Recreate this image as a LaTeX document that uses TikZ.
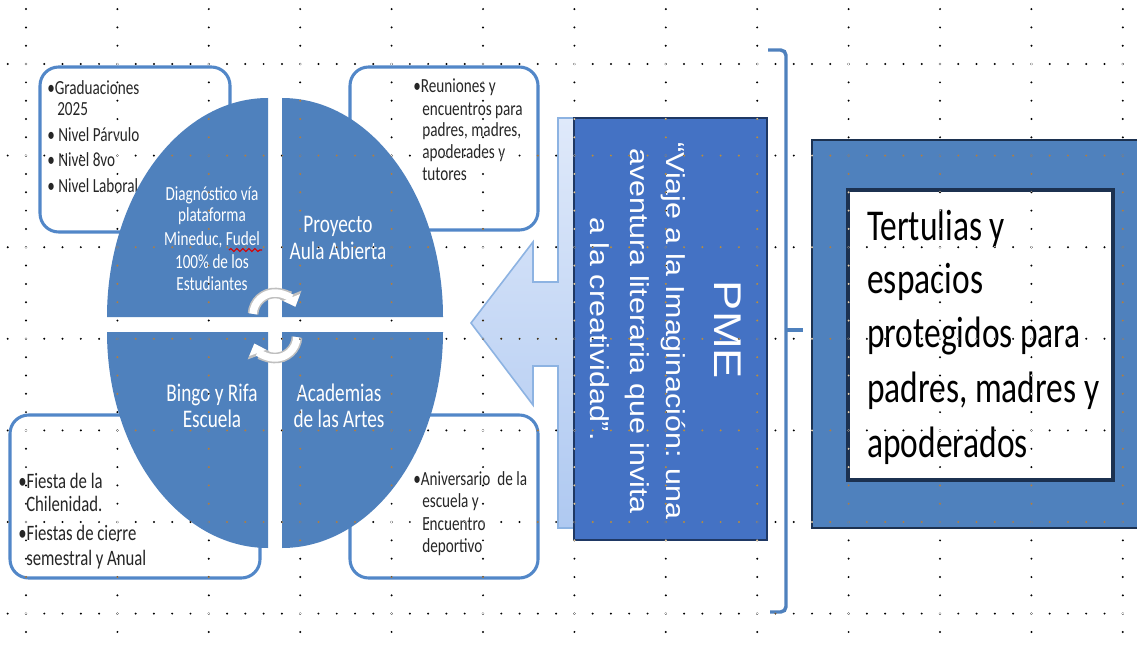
\documentclass[tikz,border=0pt]{standalone}
\usepackage{fontspec}
\setmainfont{Carlito}
\newfontfamily\narrowfont[FakeStretch=0.76]{Carlito}
\newfontfamily\pmefont[FakeStretch=1.17]{Liberation Sans}
\usetikzlibrary{arrows.meta,decorations.pathmorphing}
\definecolor{qblue}{HTML}{4F81BD}
\definecolor{pmeblue}{HTML}{4472C4}
\definecolor{navy}{HTML}{1F3864}
\definecolor{framenavy}{HTML}{1C3150}
\definecolor{boxline}{HTML}{5287C8}
\definecolor{arrowedge}{HTML}{8DB3E2}
\definecolor{arrowtop}{HTML}{DFE9FA}
\definecolor{arrowbot}{HTML}{AFC9F1}
\definecolor{txt}{HTML}{262626}
\tikzset{
  bulletbox/.style={draw=boxline, line width=2.3pt, fill=white, rounded corners=14pt},
  bullettext/.style={anchor=base west, inner sep=0pt, text=txt, font=\narrowfont\fontsize{15}{18}\selectfont},
  bullettextbig/.style={bullettext, font=\narrowfont\fontsize{16.5}{19}\selectfont},
  quad/.style={fill=qblue},
  quadtext/.style={anchor=base, inner sep=0pt, text=white, font=\narrowfont\fontsize{15}{18}\selectfont},
  quadbig/.style={anchor=base, inner sep=0pt, text=white, font=\narrowfont\fontsize{19}{22}\selectfont},
  pmeline/.style={rotate=-90, inner sep=0pt, text=white, font=\pmefont\fontsize{19.5}{23}\selectfont},
  pmetitle/.style={rotate=-90, inner sep=0pt, text=white, font=\pmefont\fontsize{29}{32}\selectfont},
  bigtext/.style={anchor=base west, inner sep=0pt, text=black, font=\narrowfont\fontsize{33}{40}\selectfont},
  cycout/.style={draw=black!25, line width=8pt, -{Triangle[width=17pt,length=9.5pt]}},
  cycin/.style={draw=white, line width=5.6pt, -{Triangle[width=13pt,length=7.5pt]}},
  bracketline/.style={draw=qblue, line width=2.6pt, rounded corners=4pt},
  griddot/.style={fill=white}
}
\begin{document}
\begin{tikzpicture}[x=0.75pt,y=-0.75pt]
\useasboundingbox (0,0) rectangle (1137,645);
\fill[white] (0,0) rectangle (1137,645);

% ---- bullet boxes ----
\draw[bulletbox] (40,67) rectangle (230,232);
\draw[bulletbox] (350,67) rectangle (538,230);
\draw[bulletbox] (10,415) rectangle (260,578);
\draw[bulletbox] (350,415) rectangle (538,578);

\node[bullettext] (g1) at (47,95) {•Graduaciones};
\node[bullettext] (g2) at (57,116) {2025};
\node[bullettext] (g3) at (47,142) {• Nivel Párvulo};
\node[bullettext] (g4) at (47,167) {• Nivel 8vo};
\node[bullettext] (g5) at (47,193) {• Nivel Laboral};

\node[bullettext] (r1) at (413,93) {•Reuniones y};
\node[bullettext] (r2) at (422,116) {encuentros para};
\node[bullettext] (r3) at (422,137) {padres, madres,};
\node[bullettext] (r4) at (422,159) {apoderades y};
\node[bullettext] (r5) at (422,181) {tutores};

\node[bullettextbig] (f1) at (18,488) {•Fiesta de la};
\node[bullettextbig] (f2) at (26,511) {Chilenidad.};
\node[bullettextbig] (f3) at (18,540) {•Fiestas de cierre};
\node[bullettextbig] (f4) at (26,565) {semestral y Anual};

\node[bullettext] (a1) at (413,485) {•Aniversario\ \ de la};
\node[bullettext] (a2) at (422,507) {escuela y};
\node[bullettext] (a3) at (422,530) {Encuentro};
\node[bullettext] (a4) at (422,552) {deportivo};

% ---- ellipse quadrants ----
\fill[quad] (268,317) -- (107,317) arc[start angle=180, end angle=270, x radius=161, y radius=219] -- cycle;
\fill[quad] (282,317) -- (282,98) arc[start angle=270, end angle=360, x radius=161, y radius=219] -- cycle;
\fill[quad] (268,332) -- (268,548) arc[start angle=90, end angle=180, x radius=161, y radius=216] -- cycle;
\fill[quad] (282,332) -- (443,332) arc[start angle=0, end angle=90, x radius=161, y radius=216] -- cycle;

\node[quadtext] (d1) at (212,200) {Diagnóstico vía};
\node[quadtext] (d2) at (212,222) {plataforma};
\node[quadtext] (d3) at (212,245) {Mineduc, Fudel};
\node[quadtext] (d4) at (212,268) {100\% de los};
\node[quadtext] (d5) at (212,290) {Estudiantes};
\draw[red!85!black, line width=0.9pt, decorate, decoration={snake, amplitude=1.1, segment length=4.5}] (229,250) -- (262,250);

\node[quadbig] (p1) at (338,233) {Proyecto};
\node[quadbig] (p2) at (338,259) {Aula Abierta};
\node[quadbig] (b1) at (212,401) {Bingo y Rifa};
\node[quadbig] (b2) at (212,427) {Escuela};
\node[quadbig] (c1) at (339,401) {Academias};
\node[quadbig] (c2) at (339,427) {de las Artes};

% ---- cycle arrows ----
\draw[cycout] (275,315) ++(183:22) arc[start angle=183, end angle=338, radius=22];
\draw[cycin]  (275,315) ++(183:22) arc[start angle=183, end angle=338, radius=22];
\draw[cycout] (275,336) ++(3:22) arc[start angle=3, end angle=160, radius=22];
\draw[cycin]  (275,336) ++(3:22) arc[start angle=3, end angle=160, radius=22];

% ---- big left arrow ----
\filldraw[draw=arrowedge, line width=1.2pt, top color=arrowtop, bottom color=arrowbot]
  (471,323) -- (533,242) -- (533,282) -- (558,282) -- (558,118) -- (600,118)
  -- (600,528) -- (558,528) -- (558,366) -- (533,366) -- (533,405) -- cycle;

% ---- PME box ----
\filldraw[fill=pmeblue, draw=navy, line width=1.3pt] (574,118) rectangle (767,540);
\node[pmetitle] (pme) at (728,330) {PME};
\node[pmeline] (l1) at (673,331) {“Viaje a la Imaginación: una};
\node[pmeline] (l2) at (637,331) {aventura literaria que invita};
\node[pmeline] (l3) at (600,329) {a la creatividad”.};

% ---- bracket ----
\coordinate (bt) at (768,50);
\coordinate (bb) at (770,612);
\coordinate (bm) at (803,330);
\draw[bracketline] (bt) -- (786,50) -- (786,612) -- (bb);
\draw[bracketline, line width=3.2pt] (786,330) -- (bm);

% ---- right frame ----
\filldraw[fill=qblue, draw=framenavy, line width=2pt] (812,140) rectangle (1145,528);
\filldraw[fill=white, draw=framenavy, line width=2.4pt] (848,190) rectangle (1113,480);
\node[bigtext] (t1) at (867,240) {Tertulias y};
\node[bigtext] (t2) at (867,293) {espacios};
\node[bigtext] (t3) at (867,347) {protegidos para};
\node[bigtext] (t4) at (867,402) {padres, madres y};
\node[bigtext] (t5) at (867,457) {apoderados};

% ---- dotted grid ----
\begin{scope}[blend mode=difference]
  \foreach \j in {0,...,6} {
    \foreach \i in {0,...,61} {
      \fill[griddot] ({7.7+18.28*\i},{64+91.6*\j}) circle[radius=1.1];
    }
  }
  \foreach \k in {0,...,12} {
    \foreach \n in {0,...,34} {
      \fill[griddot] ({26+91.4*\k},{9.1+18.32*\n}) circle[radius=1.1];
    }
  }
\end{scope}
\end{tikzpicture}
\end{document}
